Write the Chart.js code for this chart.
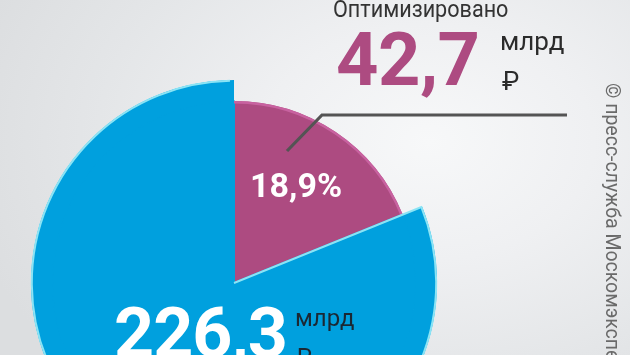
<!DOCTYPE html>
<html>
<head>
<meta charset="utf-8">
<script src="https://cdn.jsdelivr.net/npm/chart.js@4/dist/chart.umd.min.js"></script>
<style>
  html, body { margin: 0; padding: 0; }
  #stage {
    position: relative; width: 630px; height: 355px; overflow: hidden;
    background: radial-gradient(ellipse 75% 95% at 68% 40%, #f7f8f9 0%, #eff0f2 35%, #e4e6e8 70%, #dcdee0 100%);
    font-family: Roboto, "Noto Sans", sans-serif;
  }
  #chart { position: absolute; left: 0; top: 0; }
  .t { position: absolute; line-height: 1; white-space: nowrap; transform-origin: 0 0; }
  svg { position: absolute; left: 0; top: 0; }
</style>
</head>
<body>
<div id="stage">
  <canvas id="chart" width="630" height="500"></canvas>
  <svg width="630" height="355"><polyline points="287,151 322,115 567,115" fill="none" stroke="#545454" stroke-width="3.2"/></svg>
  <div class="t" id="hdr" style="left:333px; top:-3px; font-size:24px; color:#333; transform:scaleX(0.9);">Оптимизировано</div>
  <div class="t" id="big1" style="left:336px; top:23px; font-size:74px; font-weight:700; color:#ad4b81; letter-spacing:-0.5px;">42,7</div>
  <div class="t" style="left:500px; top:28px; font-size:26px; color:#2b2b2b;">млрд</div>
  <div class="t" style="left:502px; top:68px; font-size:26px; color:#2b2b2b;">₽</div>
  <div class="t" id="pct" style="left:250px; top:168px; font-size:34px; font-weight:700; color:#fff;">18,9%</div>
  <div class="t" id="big2" style="left:114px; top:298px; font-size:70px; font-weight:700; color:#fff; letter-spacing:-1px;">226,3</div>
  <div class="t" style="left:295px; top:306px; font-size:24px; color:#1b2833;">млрд</div>
  <div class="t" style="left:296px; top:345px; font-size:24px; color:#1b2833;">₽</div>
  <div class="t" id="credit" style="left:622px; top:83px; font-size:19.5px; color:#6a6a6a; transform:rotate(90deg);">© пресс-служба Москомэкспертизы</div>
</div>
<script>
// Data
const categories = ['Оптимизировано', 'Остальное'];
const values = [42.7, 183.6];          // млрд ₽ (42,7 из 226,3)
const colors = ['#ad4b81', '#00a0de'];

const rimPlugin = {
  id: 'rim',
  afterDatasetsDraw(chart) {
    const ctx = chart.ctx;
    const ring = chart.getDatasetMeta(0).data[1];
    const mag = chart.getDatasetMeta(1).data[0];
    const r = ring.getProps(['x', 'y', 'startAngle', 'endAngle', 'outerRadius'], true);
    const m = mag.getProps(['x', 'y', 'startAngle', 'endAngle', 'outerRadius'], true);
    ctx.save();
    // light pink rim on the optimised slice
    ctx.strokeStyle = '#c862a0';
    ctx.lineWidth = 2.5;
    ctx.beginPath();
    ctx.arc(m.x, m.y, m.outerRadius - 1.2, m.startAngle, m.endAngle);
    ctx.stroke();
    // light cyan rim on the big slice
    ctx.strokeStyle = '#8be4f5';
    ctx.lineWidth = 2;
    ctx.beginPath();
    ctx.moveTo(r.x, r.y);
    ctx.lineTo(r.x + Math.cos(r.startAngle) * r.outerRadius, r.y + Math.sin(r.startAngle) * r.outerRadius);
    ctx.arc(r.x, r.y, r.outerRadius - 0.8, r.startAngle, r.endAngle - 0.02);
    ctx.stroke();
    ctx.restore();
  }
};

new Chart(document.getElementById('chart'), {
  type: 'pie',
  data: {
    labels: categories,
    datasets: [
      { // outer band: only the big slice reaches it
        data: values,
        backgroundColor: ['rgba(0,0,0,0)', colors[1]],
        borderWidth: 0, hoverBorderWidth: 0, hoverOffset: 0,
        weight: 21
      },
      { // inner disc
        data: values,
        backgroundColor: colors,
        borderColor: colors,
        borderWidth: [0, 2], hoverBorderWidth: 0, hoverOffset: 0,
        weight: 182
      }
    ]
  },
  options: {
    responsive: false,
    animation: false,
    events: [],
    layout: { padding: { left: 31, top: 80, right: 193, bottom: 14 } },
    plugins: { legend: { display: false }, tooltip: { enabled: false } }
  },
  plugins: [rimPlugin]
});
</script>
</body>
</html>
